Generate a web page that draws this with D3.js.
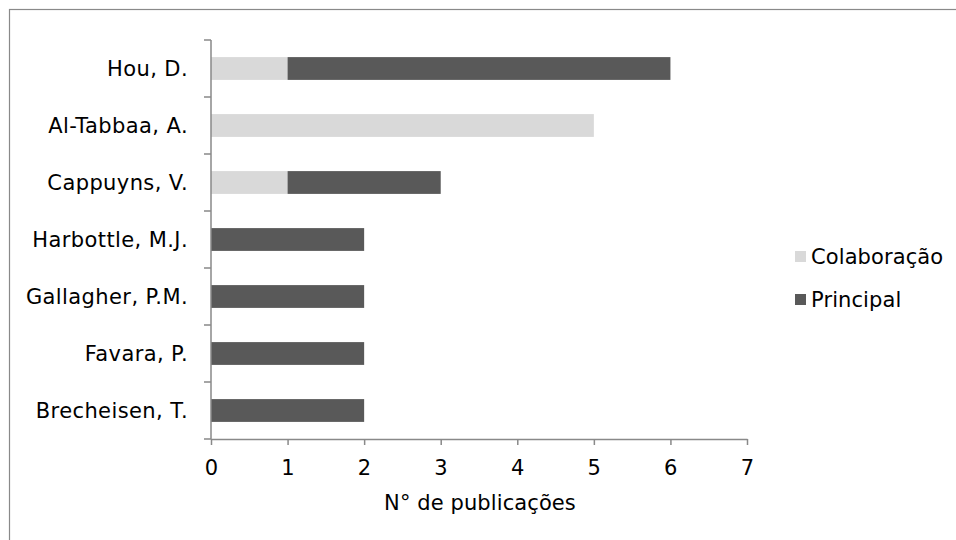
<!DOCTYPE html>
<html>
<head>
<meta charset="utf-8">
<script src="https://cdn.jsdelivr.net/npm/d3@7"></script>
<style>
  body { margin: 0; background: #fff; }
  text { font-family: "DejaVu Sans", Verdana, sans-serif; fill: #000; letter-spacing: 0.4px; }
  .legend text, .title { letter-spacing: 0.1px; }
</style>
</head>
<body>
<div id="chart"></div>
<script>
var authors = ['Hou, D.', 'Al-Tabbaa, A.', 'Cappuyns, V.', 'Harbottle, M.J.', 'Gallagher, P.M.', 'Favara, P.', 'Brecheisen, T.'];
var colaboracao = [1, 5, 1, 0, 0, 0, 0];
var principal = [5, 0, 2, 2, 2, 2, 2];
var seriesNames = ['Colaboração', 'Principal'];
var seriesColors = ['#d9d9d9', '#595959'];
var xTicks = [0, 1, 2, 3, 4, 5, 6, 7];

var W = 956, H = 540;
var margin = {top: 40, left: 211, right: 209, bottom: 101};
var width = W - margin.left - margin.right,
    height = H - margin.top - margin.bottom;
var fontSize = '21px';

var svg = d3.select('#chart').append('svg')
    .attr('width', W)
    .attr('height', H);

// outer frame
svg.append('rect')
    .attr('x', 9.5).attr('y', 9.5)
    .attr('width', W).attr('height', H)
    .attr('fill', 'none')
    .attr('stroke', '#898989')
    .attr('stroke-width', 1.2);

var main = svg.append('g')
    .attr('transform', 'translate(' + margin.left + ',' + margin.top + ')');

var x = d3.scaleLinear().domain([0, 7]).range([0, width]);
var y = d3.scaleBand().domain(authors).range([0, height]).paddingInner(0.6).paddingOuter(0.3);
var yLine = d3.scaleLinear().domain([0, authors.length]).range([0, height]);

var rows = authors.map(function (a, i) {
    return {name: a, Colaboração: colaboracao[i], Principal: principal[i]};
});
var stacked = d3.stack().keys(seriesNames)(rows);

main.selectAll('g.series')
    .data(stacked)
    .enter().append('g')
    .attr('class', 'series')
    .attr('fill', function (d, i) { return seriesColors[i]; })
    .selectAll('rect')
    .data(function (d) { return d; })
    .enter().append('rect')
    .attr('x', function (d) { return x(d[0]); })
    .attr('y', function (d) { return y(d.data.name); })
    .attr('width', function (d) { return x(d[1]) - x(d[0]); })
    .attr('height', y.bandwidth());

// x axis
var xAxis = main.append('g')
    .attr('transform', 'translate(0,' + height + ')')
    .call(d3.axisBottom(x).tickValues(xTicks).tickFormat(d3.format('d'))
        .tickSize(6).tickSizeOuter(0).tickPadding(15));
xAxis.selectAll('line').attr('stroke', '#898989').attr('stroke-width', 1.5);
xAxis.select('.domain').attr('stroke', '#898989').attr('stroke-width', 1.5);
xAxis.selectAll('text').style('font-size', fontSize).style('font-family', '"DejaVu Sans", sans-serif');

// y axis: domain line with ticks between categories
var yAxis = main.append('g');
yAxis.append('line')
    .attr('x1', 0).attr('x2', 0)
    .attr('y1', 0).attr('y2', height)
    .attr('stroke', '#898989').attr('stroke-width', 1.5);
yAxis.selectAll('line.tick')
    .data(d3.range(authors.length + 1))
    .enter().append('line')
    .attr('class', 'tick')
    .attr('x1', -7).attr('x2', 0)
    .attr('y1', function (d) { return yLine(d); })
    .attr('y2', function (d) { return yLine(d); })
    .attr('stroke', '#898989').attr('stroke-width', 1.5);
yAxis.selectAll('text')
    .data(authors)
    .enter().append('text')
    .attr('x', -23)
    .attr('y', function (d) { return y(d) + y.bandwidth() / 2; })
    .attr('dy', '0.35em')
    .attr('text-anchor', 'end')
    .style('font-size', fontSize)
    .text(function (d) { return d; });

// axis title
main.append('text')
    .attr('class', 'title')
    .attr('x', width / 2 + 1)
    .attr('y', height + 71)
    .attr('text-anchor', 'middle')
    .style('font-size', fontSize)
    .text('N° de publicações');

// legend
var legend = svg.append('g').attr('class', 'legend').attr('transform', 'translate(795,257)');
legend.selectAll('rect')
    .data(seriesNames)
    .enter().append('rect')
    .attr('x', 0)
    .attr('y', function (d, i) { return i * 43 - 6; })
    .attr('width', 11).attr('height', 11)
    .attr('fill', function (d, i) { return seriesColors[i]; });
legend.selectAll('text')
    .data(seriesNames)
    .enter().append('text')
    .attr('x', 16)
    .attr('y', function (d, i) { return i * 43; })
    .attr('dy', '0.35em')
    .style('font-size', fontSize)
    .text(function (d) { return d; });
</script>
</body>
</html>
